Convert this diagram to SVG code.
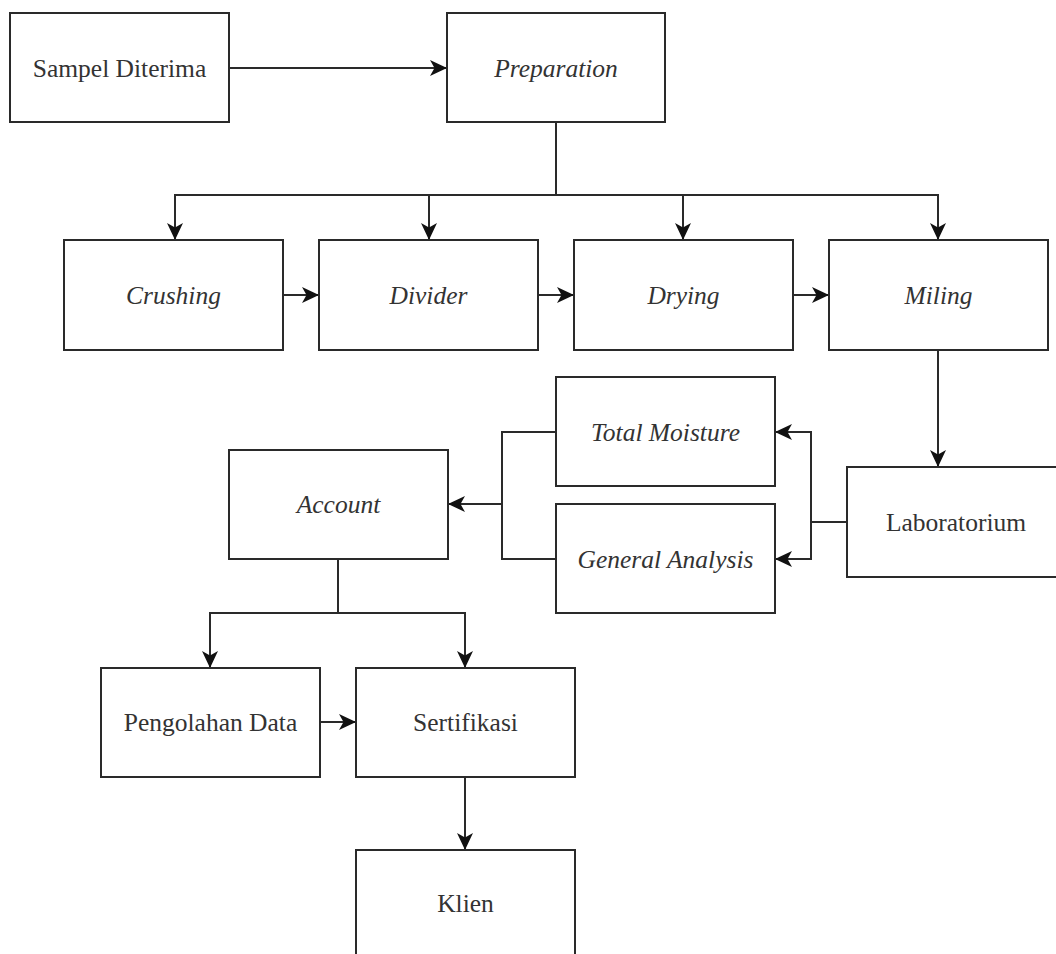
<svg xmlns="http://www.w3.org/2000/svg" width="1056" height="954" viewBox="0 0 1056 954">
<defs>
<style>
.box{fill:#fff;stroke:#2a2a2a;stroke-width:2}
.lbl{font-family:"Liberation Serif","Times New Roman",serif;font-size:25.5px;fill:#333;text-anchor:middle}
.it{font-style:italic}
.edge{fill:none;stroke:#2a2a2a;stroke-width:2}
.arr{marker-end:url(#ah)}
</style>
<marker id="ah" markerUnits="userSpaceOnUse" markerWidth="20" markerHeight="18" refX="17" refY="8" orient="auto">
<path d="M0,0 L17,8 L0,16 L4.5,8 Z" fill="#111"/>
</marker>
</defs>
<rect width="1056" height="954" fill="#fff"/>
<g id="connectors">
<path class="edge arr" d="M229,68 H447"/>
<path class="edge arr" d="M556,122 V195 H175 V240"/>
<path class="edge arr" d="M556,195 H429 V240"/>
<path class="edge arr" d="M556,195 H683 V240"/>
<path class="edge arr" d="M556,195 H938 V240"/>
<path class="edge arr" d="M283,295 H319"/>
<path class="edge arr" d="M538,295 H574"/>
<path class="edge arr" d="M793,295 H829"/>
<path class="edge arr" d="M938,350 V467"/>
<path class="edge arr" d="M847,522 H811 V432 H775"/>
<path class="edge arr" d="M811,522 V559 H775"/>
<path class="edge arr" d="M556,432 H502 V504 H448"/>
<path class="edge" d="M556,559 H502 V504"/>
<path class="edge arr" d="M338,559 V613 H210 V668"/>
<path class="edge arr" d="M338,613 H465 V668"/>
<path class="edge arr" d="M320,722 H356"/>
<path class="edge arr" d="M465,777 V850"/>
</g>
<g id="sampel"><rect class="box" x="10" y="13" width="219" height="109"/><text class="lbl" x="119.5" y="77">Sampel Diterima</text></g>
<g id="preparation"><rect class="box" x="447" y="13" width="218" height="109"/><text class="lbl it" x="556" y="77">Preparation</text></g>
<g id="crushing"><rect class="box" x="64" y="240" width="219" height="110"/><text class="lbl it" x="173.5" y="304">Crushing</text></g>
<g id="divider"><rect class="box" x="319" y="240" width="219" height="110"/><text class="lbl it" x="428.5" y="304">Divider</text></g>
<g id="drying"><rect class="box" x="574" y="240" width="219" height="110"/><text class="lbl it" x="683.5" y="304">Drying</text></g>
<g id="miling"><rect class="box" x="829" y="240" width="219" height="110"/><text class="lbl it" x="938.5" y="304">Miling</text></g>
<g id="laboratorium"><rect class="box" x="847" y="467" width="219" height="110"/><text class="lbl" x="956" y="531">Laboratorium</text></g>
<g id="total-moisture"><rect class="box" x="556" y="377" width="219" height="109"/><text class="lbl it" x="665.5" y="441">Total Moisture</text></g>
<g id="general-analysis"><rect class="box" x="556" y="504" width="219" height="109"/><text class="lbl it" x="665.5" y="568">General Analysis</text></g>
<g id="account"><rect class="box" x="229" y="450" width="219" height="109"/><text class="lbl it" x="338.5" y="513">Account</text></g>
<g id="pengolahan"><rect class="box" x="101" y="668" width="219" height="109"/><text class="lbl" x="210.5" y="731">Pengolahan Data</text></g>
<g id="sertifikasi"><rect class="box" x="356" y="668" width="219" height="109"/><text class="lbl" x="465.5" y="731">Sertifikasi</text></g>
<g id="klien"><rect class="box" x="356" y="850" width="219" height="120"/><text class="lbl" x="465.5" y="912">Klien</text></g>
</svg>
